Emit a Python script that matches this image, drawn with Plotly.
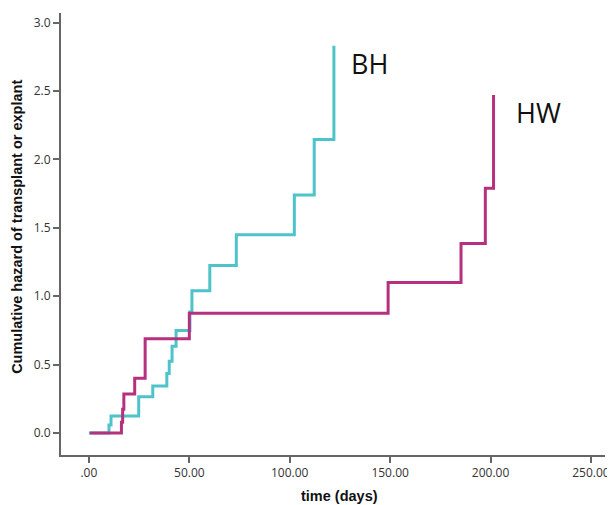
import plotly.graph_objects as go

# BH group (cyan): event times (days) and cumulative hazard
bh_time = [0, 10, 11, 24.8, 31.8, 38.8, 40, 41.4, 43.4, 50.3, 51.3, 60.2, 73.4, 102.3, 112.2, 122]
bh_hazard = [0, 0.06, 0.125, 0.265, 0.345, 0.435, 0.525, 0.635, 0.75, 0.885, 1.04, 1.225, 1.45, 1.74, 2.145, 2.83]

# HW group (magenta)
hw_time = [0.5, 16.2, 16.8, 17.4, 22.8, 28.0, 50.0, 149.0, 185.3, 197.4, 201.5]
hw_hazard = [0, 0.08, 0.175, 0.285, 0.40, 0.69, 0.875, 1.10, 1.385, 1.79, 2.47]

x_ticks = [0, 50, 100, 150, 200, 250]
x_ticklabels = [".00", "50.00", "100.00", "150.00", "200.00", "250.00"]
y_ticks = [0.0, 0.5, 1.0, 1.5, 2.0, 2.5, 3.0]
y_ticklabels = ["0.0", "0.5", "1.0", "1.5", "2.0", "2.5", "3.0"]

cyan = "#4EC3C9"
magenta = "#B5307E"

fig = go.Figure()
fig.add_trace(go.Scatter(x=bh_time, y=bh_hazard, mode="lines", line=dict(color=cyan, width=3, shape="hv"), name="BH"))
fig.add_trace(go.Scatter(x=hw_time, y=hw_hazard, mode="lines", line=dict(color=magenta, width=3, shape="hv"), name="HW"))

fig.add_annotation(x=129.7, y=2.70, text="BH", showarrow=False, xanchor="left", yanchor="middle",
                   font=dict(family="Open Sans", size=27, color="#111"))
fig.add_annotation(x=211.9, y=2.34, text="HW", showarrow=False, xanchor="left", yanchor="middle",
                   font=dict(family="Open Sans", size=27, color="#111"))

fig.add_annotation(x=0.512, y=-0.093, xref="paper", yref="paper", text="<b>time (days)</b>", showarrow=False,
                   xanchor="center", yanchor="middle", font=dict(family="Liberation Sans", size=14.5, color="#111"))
fig.add_annotation(x=-0.081, y=0.516, xref="paper", yref="paper", text="<b>Cumulative hazard of transplant or explant</b>",
                   showarrow=False, textangle=-90, xanchor="center", yanchor="middle",
                   font=dict(family="Liberation Sans", size=14.5, color="#111"))

fig.update_layout(
    width=607, height=497,
    margin=dict(l=53, r=7, t=5, b=50),
    paper_bgcolor="white", plot_bgcolor="white",
    showlegend=False,
    xaxis=dict(range=[-13.9, 257], tickvals=x_ticks, ticktext=x_ticklabels, showgrid=False, zeroline=False,
               showline=True, linecolor="#666", linewidth=2, ticks="outside", ticklen=6, tickwidth=1.5,
               tickcolor="#666", tickfont=dict(family="Open Sans", size=12, color="#333")),
    yaxis=dict(range=[-0.16, 3.07], tickvals=y_ticks, ticktext=y_ticklabels, showgrid=False, zeroline=False,
               showline=True, linecolor="#666", linewidth=2, ticks="outside", ticklen=6, tickwidth=1.5,
               tickcolor="#666", tickfont=dict(family="Open Sans", size=12, color="#333")),
)

fig.write_html("out.html")
